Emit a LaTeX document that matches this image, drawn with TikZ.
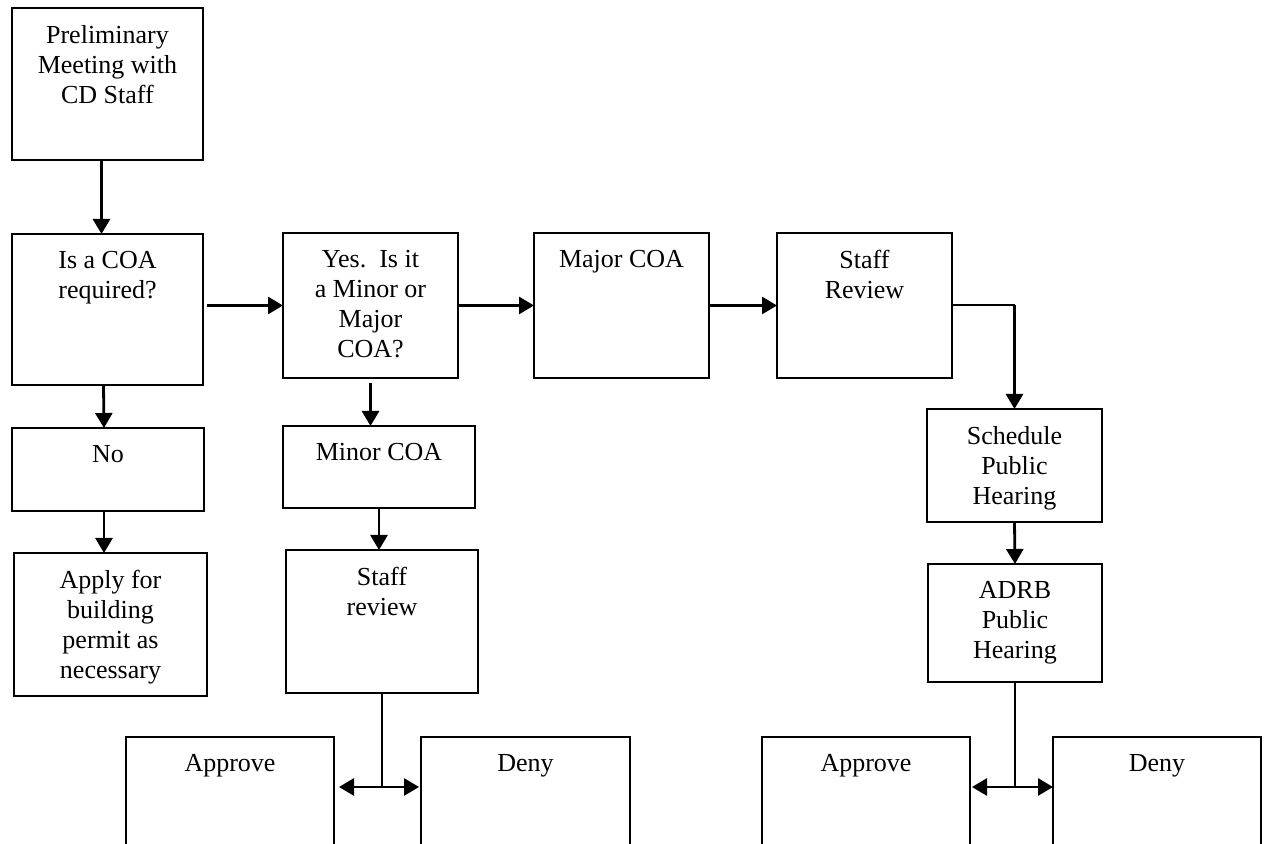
\documentclass[tikz,border=0pt]{standalone}
\usepackage{fontspec}
\setmainfont{Liberation Serif}
\usetikzlibrary{arrows.meta, positioning, calc}

\begin{document}
\begin{tikzpicture}[x=0.5pt, y=-0.5pt,
    box/.style={draw, line width=1pt, anchor=north west, inner sep=0pt, outer sep=0pt},
    txt/.style={anchor=north, align=center, inner sep=0pt, font=\fontsize{13}{15}\selectfont},
    arr/.style={-{Triangle[length=7.5pt, width=8.5pt]}, line width=1.4pt},
    dbl/.style={{Triangle[length=7.5pt, width=8.5pt]}-{Triangle[length=7.5pt, width=8.5pt]}, line width=1.4pt},
    link/.style={line width=1pt}]
    % Page: 1px = 0.5pt, y runs down
    \useasboundingbox (0,0) rectangle (1266,844);
    \clip (0,0) rectangle (1266,844);

    % Boxes: name / left / top / width / height / text
    \foreach \n/\x/\y/\w/\h/\t in {
        pre/12/8/191/152/{Preliminary\\Meeting with\\CD Staff},
        req/12/234/191/151/{Is a COA\\required?},
        no/12/428/192/83/{No},
        apply/14/553/193/143/{Apply for\\building\\permit as\\necessary},
        yes/283/233/175/145/{Yes.\ \ Is it\\a Minor or\\Major\\COA?},
        minor/283/426/192/82/{Minor COA},
        staffr/286/550/192/143/{Staff\\review},
        major/534/233/175/145/{Major COA},
        staffR/777/233/175/145/{Staff\\Review},
        sched/927/409/175/113/{Schedule\\Public\\Hearing},
        adrb/928/564/174/118/{ADRB\\Public\\Hearing},
        appL/126/737/208/200/{Approve},
        denyL/421/737/209/200/{Deny},
        appR/762/737/208/200/{Approve},
        denyR/1053/737/208/200/{Deny}} {
        \node[box, minimum width=\w*0.5pt, minimum height=\h*0.5pt] (\n) at (\x,\y) {};
        \node[txt] (\n-t) at ([yshift=-8.5pt]\n.north) {\t};
    }

    % Left column
    \draw[arr] ([xshift=-3pt]pre.south) -- ([xshift=-3pt]req.north);
    \draw[arr] ([xshift=-2pt]req.south) -- ([xshift=-2pt]no.north);
    \draw[arr] ([xshift=-2pt]no.south) -- ([xshift=-2pt]no.south |- apply.north);

    % Top row
    \draw[arr] ([xshift=2pt]yes.west -| req.east) -- (yes.west);
    \draw[arr] (yes.east) -- (major.west);
    \draw[arr] (major.east) -- (staffR.west);
    \draw[link] (staffR.east) -- (staffR.east -| sched.north);
    \draw[arr] (staffR.east -| sched.north) -- (sched.north);
    \draw[arr] (sched.south) -- (adrb.north);

    % Minor branch
    \draw[arr] ([yshift=-2.5pt]yes.south) -- (yes.south |- minor.north);
    \draw[arr] (minor.south) -- (minor.south |- staffr.north);

    % Approve / Deny splits
    \coordinate (jL) at (staffr.south |- 0,787);
    \coordinate (jR) at (adrb.south |- 0,787);
    \draw[link] (staffr.south) -- (jL);
    \draw[dbl] ([xshift=2.5pt]appL.east |- jL) -- ([xshift=-1pt]denyL.west |- jL);
    \draw[link] (adrb.south) -- (jR);
    \draw[dbl] ([xshift=1pt]appR.east |- jR) -- (denyR.west |- jR);
\end{tikzpicture}
\end{document}
